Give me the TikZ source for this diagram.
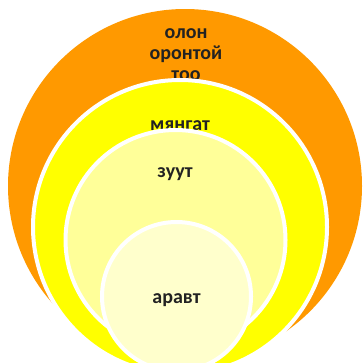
\documentclass[tikz,border=0pt]{standalone}
\usepackage{fontspec}
\setmainfont{Carlito}
\usepackage{tikz}
\definecolor{ringOrange}{HTML}{FF9900}
\definecolor{ringYellow}{HTML}{FFFF00}
\definecolor{ringPale}{HTML}{FFFF99}
\definecolor{ringCream}{HTML}{FFFFCC}
\definecolor{labelInk}{HTML}{222222}
\tikzset{
  ring/.style={draw=white, line width=4pt},
  word/.style={text=labelInk, font=\bfseries\fontsize{20}{21}\selectfont, align=center, inner sep=0pt},
}

\begin{document}
\begin{tikzpicture}[x=1pt, y=-1pt]

  % frame
  \useasboundingbox (0,0) rectangle (363,362);
  \clip (0,0) rectangle (363,362);

  % circles, outside in, each label under the next circle
  \fill[ringOrange] (185,186) circle[radius=177];
  \node[word] (olon) at (186,55) {олон\\оронтой\\тоо};

  \draw[ring, fill=ringYellow] (180,227) circle[radius=147];
  \node[word] (myangat) at (180,126) {мянгат};

  \draw[ring, fill=ringPale] (175.5,240) circle[radius=110];
  \node[word] (zuut) at (175,174) {зуут};

  \draw[ring, fill=ringCream] (176.5,296.5) circle[radius=74.5];
  \node[word] (aravt) at (176.5,300) {аравт};

\end{tikzpicture}
\end{document}
